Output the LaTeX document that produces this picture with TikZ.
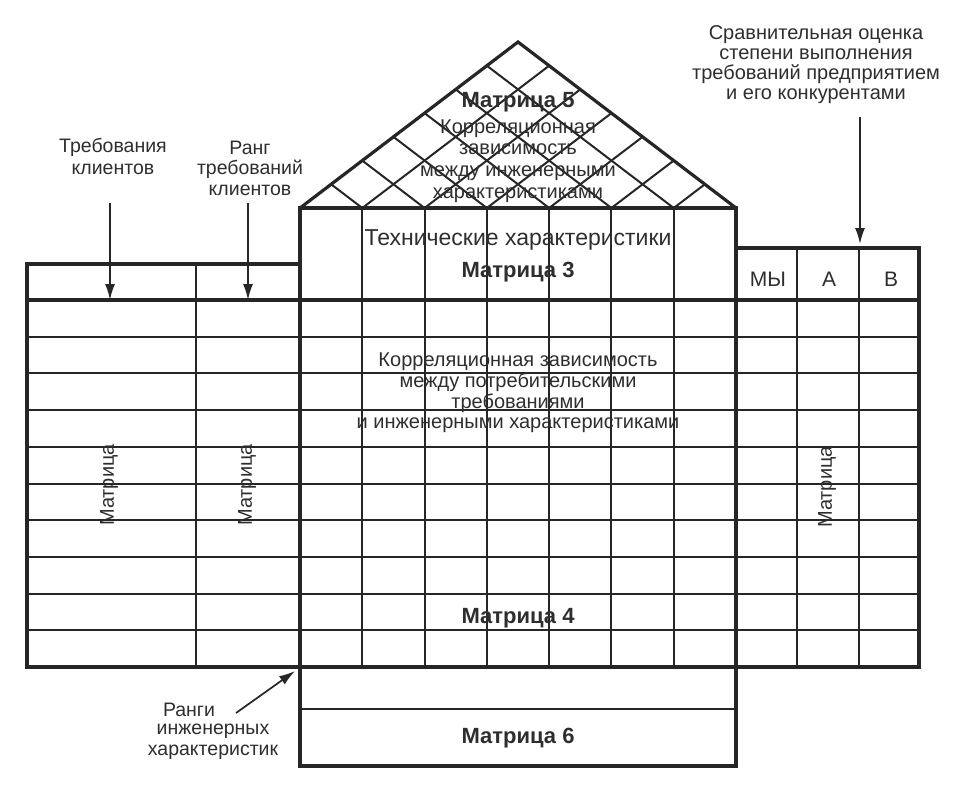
\documentclass[tikz,border=0pt]{standalone}
\usepackage{fontspec}
\setmainfont{Liberation Sans}
\usetikzlibrary{calc,arrows.meta}
\definecolor{ink}{HTML}{262626}
\definecolor{txt}{HTML}{2E2E2E}
\begin{document}
\begin{tikzpicture}[x=1pt,y=-1pt,
  thickln/.style={line width=3.2pt, draw=ink, line join=miter},
  thinln/.style={line width=2pt, draw=ink},
  lbl/.style={font=\fontsize{20}{21}\selectfont, text=txt, align=center, inner sep=0pt},
  boldlbl/.style={font=\fontsize{22}{24}\selectfont\bfseries, text=txt, inner sep=0pt},
  ann/.style={-{Latex[length=16pt,width=10pt]}, line width=1.7pt, draw=ink, fill=ink}]
\useasboundingbox (0,0) rectangle (960,792);

% key coordinates
\coordinate (apex) at (518,42);
\coordinate (RL) at (300,208);
\coordinate (RR) at (736,208);

% horizontal row lines
\foreach \k in {1,...,9}
  \draw[thinln] (27,{300+36.7*\k}) -- (919,{300+36.7*\k});

% central columns
\foreach \i in {1,...,6}
  \draw[thinln] ($(RL)!\i/7!(RR)$) -- ++(0,459);

% right block dividers
\foreach \x in {797,859}
  \draw[thinln] (\x,248) -- (\x,667);

% left block divider
\draw[line width=2.6pt, draw=ink] (196,264) -- (196,667);

% header line
\draw[thickln] (27,300) -- (919,300);

% outlines
\draw[thickln] (27,264) rectangle (300,667);
\draw[thickln] (300,208) rectangle (736,667);
\draw[thickln] (736,248) rectangle (919,667);
\draw[thickln] (300,667) rectangle (736,766);
\draw[thinln] (300,709) -- (736,709);

% roof lattice
\foreach \i in {1,...,6} {
  \draw[thinln] ($(RL)!\i/7!(RR)$) -- ($(apex)!\i/7!(RR)$);
  \draw[thinln] ($(RL)!\i/7!(RR)$) -- ($(RL)!\i/7!(apex)$);
}
\draw[thickln] (RL) -- (apex) -- (RR);

% texts in the house
\node[boldlbl] (m5) at (518,102) {Матрица 5};
\node[lbl, font=\fontsize{20}{21.7}\selectfont] (roof) at (518,161)
  {Корреляционная\\зависимость\\между инженерными\\характеристиками};
\node[lbl, font=\fontsize{23}{24}\selectfont] (tech) at (518,240) {Технические характеристики};
\node[boldlbl] (m3) at (518,272) {Матрица 3};
\node[lbl, font=\fontsize{20}{20.7}\selectfont] (corr) at (518,393)
  {Корреляционная зависимость\\между потребительскими\\требованиями\\и инженерными характеристиками};
\node[boldlbl] (m4) at (518,618) {Матрица 4};
\node[boldlbl] (m6) at (518,738) {Матрица 6};

\node[lbl, rotate=90] (mL) at (109,485) {Матрица};
\node[lbl, rotate=90] (mM) at (247,485) {Матрица};
\node[lbl, rotate=90] (mR) at (827,487) {Матрица};

\node[lbl, font=\fontsize{21}{22}\selectfont] (my) at (768,279) {МЫ};
\node[lbl, font=\fontsize{21}{22}\selectfont] (ca) at (829,279) {А};
\node[lbl, font=\fontsize{21}{22}\selectfont] (cb) at (891,279) {В};

% annotations
\node[lbl, font=\fontsize{19.5}{22}\selectfont] (treb) at (113,156) {Требования\\клиентов};
\node[lbl, font=\fontsize{19.5}{20.5}\selectfont] (rang) at (250,168) {Ранг\\требований\\клиентов};
\node[lbl, font=\fontsize{20}{20}\selectfont] (comp) at (816,65)
  {Сравнительная оценка\\степени выполнения\\требований предприятием\\и его конкурентами};
\node[lbl, font=\fontsize{19.5}{21}\selectfont] (r1) at (189,710) {Ранги};
\node[lbl, font=\fontsize{19.5}{21}\selectfont] (r2) at (213,742) {инженерных\\характеристик};

% arrows
\coordinate (a1s) at (110,203); \coordinate (a1e) at (110,300);
\coordinate (a2s) at (248,203); \coordinate (a2e) at (248,300);
\coordinate (a3s) at (860,117); \coordinate (a3e) at (860,244);
\coordinate (a4s) at (236,713); \coordinate (a4e) at (295,671);
\draw[ann] (a1s) -- (a1e);
\draw[ann] (a2s) -- (a2e);
\draw[ann] (a3s) -- (a3e);
\draw[ann] (a4s) -- (a4e);
\end{tikzpicture}
\end{document}
